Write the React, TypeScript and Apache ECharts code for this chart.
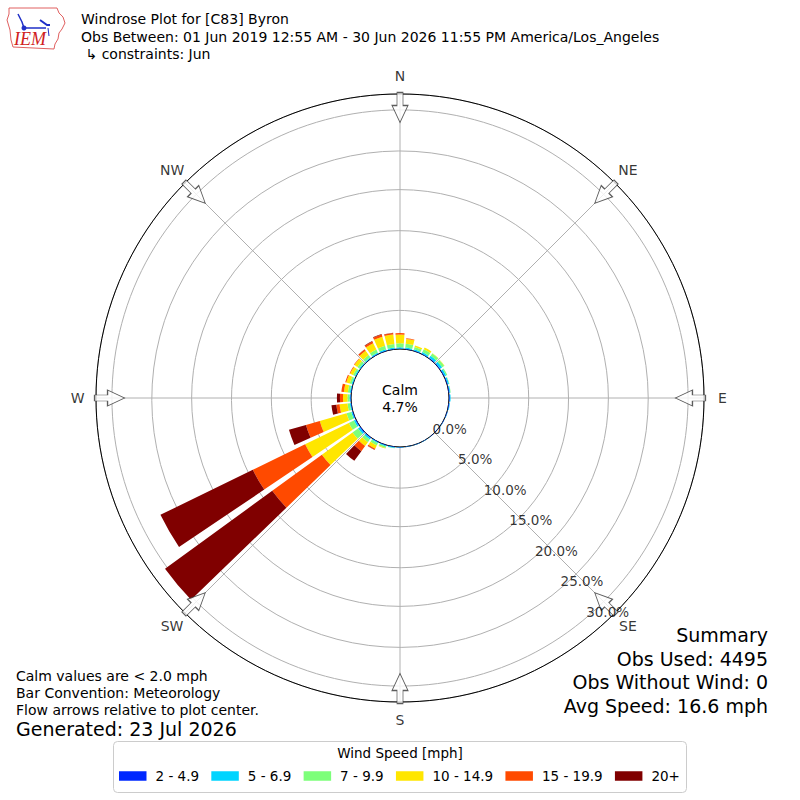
import React, { useEffect, useRef } from "react";
import * as echarts from "echarts";

// ---- data ----
const directions = [
  "0", "10", "20", "30", "40", "50", "60", "70", "80", "90", "100", "110",
  "120", "130", "140", "150", "160", "170", "180", "190", "200", "210", "220", "230",
  "240", "250", "260", "270", "280", "290", "300", "310", "320", "330", "340", "350",
];
const speedBins = ["2 - 4.9", "5 - 6.9", "7 - 9.9", "10 - 14.9", "15 - 19.9", "20+"];
const binColors = ["#0028ff", "#00d4ff", "#7dff7a", "#ffe600", "#ff4a00", "#800000"];

// percent of observations per 10-degree direction bin
const spd2to5 = [0.06, 0.06, 0.06, 0.06, 0.1, 0.1, 0.1, 0.1, 0.1, 0.1, 0.08, 0.06, 0.05, 0.03, 0.03, 0.03, 0.03, 0.03, 0.05, 0.06, 0.06, 0.06, 0.1, 0.12, 0.1, 0.08, 0.06, 0.08, 0.06, 0.05, 0.05, 0.05, 0.06, 0.06, 0.06, 0.06];
const spd5to7 = [0.15, 0.15, 0.15, 0.2, 0.3, 0.3, 0.2, 0.15, 0.1, 0.1, 0.07, 0.04, 0.03, 0.02, 0.02, 0.02, 0.02, 0.02, 0.05, 0.1, 0.12, 0.12, 0.2, 0.25, 0.2, 0.15, 0.12, 0.12, 0.12, 0.12, 0.12, 0.12, 0.12, 0.15, 0.15, 0.15];
const spd7to10 = [0.5, 0.5, 0.3, 0.4, 0.35, 0.3, 0.15, 0.05, 0.05, 0, 0, 0, 0, 0, 0, 0, 0, 0, 0, 0.04, 0.2, 0.3, 0.4, 0.85, 0.7, 0.6, 0.3, 0.25, 0.25, 0.25, 0.25, 0.3, 0.35, 0.4, 0.45, 0.45];
const spd10to15 = [1.1, 0.6, 0.19, 0.24, 0.05, 0.05, 0, 0, 0, 0, 0, 0, 0, 0, 0, 0, 0, 0, 0, 0, 0.07, 0.45, 0.6, 4.75, 6.1, 3.5, 1.0, 0.56, 0.5, 0.45, 0.4, 0.45, 0.65, 0.9, 1.2, 1.2];
const spd15to20 = [0.19, 0.09, 0, 0, 0, 0, 0, 0, 0, 0, 0, 0, 0, 0, 0, 0, 0, 0, 0, 0, 0, 0.15, 0.8, 7.7, 7.3, 1.8, 0.4, 0.38, 0.32, 0.13, 0.08, 0.08, 0.2, 0.22, 0.27, 0.2];
const spd20plus = [0, 0, 0, 0, 0, 0, 0, 0, 0, 0, 0, 0, 0, 0, 0, 0, 0, 0, 0, 0, 0, 0.02, 1.5, 16.63, 12.9, 2.22, 0.62, 0.38, 0, 0, 0, 0, 0.02, 0.07, 0.07, 0.04];

const radiusTicks = [0, 5, 10, 15, 20, 25, 30];
const compassLabels = ["N", "NE", "E", "SE", "S", "SW", "W", "NW"];
const compassAngles = [0, 45, 90, 135, 180, 225, 270, 315];

const titleLines = [
  "Windrose Plot for [C83] Byron",
  "Obs Between: 01 Jun 2019 12:55 AM - 30 Jun 2026 11:55 PM America/Los_Angeles",
  " \u21b3 constraints: Jun",
];
const summaryLines = ["Summary", "Obs Used: 4495", "Obs Without Wind: 0", "Avg Speed: 16.6 mph"];
const noteLines = ["Calm values are < 2.0 mph", "Bar Convention: Meteorology", "Flow arrows relative to plot center."];
const generatedText = "Generated: 23 Jul 2026";
const calmText = "Calm\n4.7%";
const legendTitle = "Wind Speed [mph]";

const FONT = "DejaVu Sans";
const ARROW_PATH = "path://M0,5 L13,5 L13,0 L30,8 L13,16 L13,11 L0,11 Z";

export default function App() {
  const ref = useRef<HTMLDivElement>(null);

  useEffect(() => {
    if (!ref.current) return;
    const chart = echarts.init(ref.current, undefined, { renderer: "svg" });
    const speedSeries = [spd2to5, spd5to7, spd7to10, spd10to15, spd15to20, spd20plus];
    const ARROW_R = 30.3;
    const LABEL_R = 34.3;
    const RLABEL_ANGLE = 140;

    const titleTexts = titleLines.map((t, i) => ({
      type: "text",
      x: 81,
      y: 19 + i * 17.5,
      style: { text: t, fontFamily: FONT, fontSize: 14, verticalAlign: "middle", fill: "#000" },
    }));
    const summaryTexts = summaryLines.map((t, i) => ({
      type: "text",
      x: 768,
      y: 635 + i * 23.6,
      style: { text: t, align: "right", verticalAlign: "middle", fontFamily: FONT, fontSize: 19, fill: "#000" },
    }));
    const noteTexts = noteLines.map((t, i) => ({
      type: "text",
      x: 16,
      y: 676 + i * 17,
      style: { text: t, verticalAlign: "middle", fontFamily: FONT, fontSize: 14, fill: "#000" },
    }));

    const option: any = {
      animation: false,
      backgroundColor: "#ffffff",
      textStyle: { fontFamily: FONT },
      polar: [
        { center: [400, 398], radius: [49, 304] },
        { center: [400, 398], radius: [49, 304] },
      ],
      angleAxis: [
        {
          polarIndex: 0,
          type: "value",
          min: 0,
          max: 360,
          interval: 45,
          startAngle: 90,
          clockwise: true,
          z: 3,
          axisLine: { show: true, lineStyle: { color: "#000", width: 1 } },
          axisTick: { show: false },
          axisLabel: { show: false },
          splitLine: { show: true, lineStyle: { color: "#b0b0b0", width: 1 } },
        },
        {
          polarIndex: 1,
          type: "category",
          data: directions,
          startAngle: 95,
          clockwise: true,
          boundaryGap: true,
          axisLine: { show: false },
          axisTick: { show: false },
          axisLabel: { show: false },
          splitLine: { show: false },
        },
      ],
      radiusAxis: [
        {
          polarIndex: 0,
          type: "value",
          min: 0,
          max: 32,
          interval: 5,
          z: 1,
          axisLine: { show: false },
          axisTick: { show: false },
          axisLabel: { show: false },
          splitLine: { show: true, lineStyle: { color: "#b0b0b0", width: 1 } },
        },
        {
          polarIndex: 1,
          type: "value",
          min: 0,
          max: 32,
          axisLine: { show: false },
          axisTick: { show: false },
          axisLabel: { show: false },
          splitLine: { show: false },
        },
      ],
      legend: {
        data: speedBins,
        left: 119,
        top: 769,
        padding: 0,
        orient: "horizontal",
        icon: "rect",
        itemWidth: 27.5,
        itemHeight: 9.5,
        itemGap: 12.3,
        selectedMode: false,
        textStyle: { fontFamily: FONT, fontSize: 13.5, color: "#000", padding: [0, 0, 0, 4] },
        z: 10,
      },
      series: [
        ...speedSeries.map((arr, i) => ({
          type: "bar",
          name: speedBins[i],
          coordinateSystem: "polar",
          polarIndex: 1,
          stack: "wind",
          data: arr,
          barCategoryGap: "20%",
          itemStyle: { color: binColors[i] },
          z: 5,
          silent: true,
        })),
        {
          type: "scatter",
          coordinateSystem: "polar",
          polarIndex: 0,
          clip: false,
          silent: true,
          z: 6,
          symbol: ARROW_PATH,
          symbolSize: [30, 16],
          itemStyle: { color: "#ffffff", borderColor: "#333333", borderWidth: 1 },
          data: compassAngles.map((a) => ({ value: [ARROW_R, a], symbolRotate: -90 - a })),
        },
        {
          type: "scatter",
          coordinateSystem: "polar",
          polarIndex: 0,
          clip: false,
          silent: true,
          z: 7,
          symbolSize: 0,
          data: compassAngles.map((a, i) => ({ value: [LABEL_R, a], name: compassLabels[i] })),
          label: {
            show: true,
            position: "inside",
            formatter: (p: any) => p.name,
            fontFamily: FONT,
            fontSize: 14,
            color: "#000",
          },
        },
        {
          type: "scatter",
          coordinateSystem: "polar",
          polarIndex: 0,
          clip: false,
          silent: true,
          z: 8,
          symbolSize: 0,
          data: radiusTicks.map((v) => [v, RLABEL_ANGLE]),
          label: {
            show: true,
            position: "right",
            distance: 0,
            offset: [1, -7],
            formatter: (p: any) => p.value[0].toFixed(1) + "%",
            fontFamily: FONT,
            fontSize: 13.5,
            color: "#000",
          },
        },
      ],
      graphic: [
        // IEM logo (decorative)
        {
          type: "polygon",
          z: 1,
          shape: {
            points: [
              [9, 8], [57, 8], [59, 13], [63, 17], [65, 23], [62, 29], [59, 33],
              [58, 39], [55, 44], [54, 49], [13, 47], [11, 40], [10, 30], [7, 20], [9, 14],
            ],
          },
          style: { fill: "#fff", stroke: "#e06060", lineWidth: 1 },
        },
        {
          type: "polyline",
          z: 2,
          shape: { points: [[18, 14], [22, 22], [24, 28], [46, 28]] },
          style: { stroke: "#2030c8", lineWidth: 1.5, fill: null },
        },
        {
          type: "polyline",
          z: 2,
          shape: { points: [[40, 20], [47, 25], [50, 25]] },
          style: { stroke: "#2030c8", lineWidth: 2, fill: null },
        },
        {
          type: "polyline",
          z: 2,
          shape: { points: [[48, 28], [49, 36]] },
          style: { stroke: "#2030c8", lineWidth: 1, fill: null },
        },
        { type: "circle", z: 2, shape: { cx: 24, cy: 28, r: 2.5 }, style: { fill: "#2030c8" } },
        {
          type: "text",
          z: 2,
          x: 14,
          y: 30,
          style: { text: "IEM", font: "italic 18px 'Liberation Serif'", fill: "#d02020" },
        },
        ...titleTexts,
        // calm
        {
          type: "text",
          x: 400,
          y: 398,
          z: 9,
          style: { text: calmText, align: "center", verticalAlign: "middle", fontFamily: FONT, fontSize: 14, lineHeight: 17, fill: "#000" },
        },
        ...summaryTexts,
        ...noteTexts,
        {
          type: "text",
          x: 16,
          y: 729,
          style: { text: generatedText, verticalAlign: "middle", fontFamily: FONT, fontSize: 19, fill: "#000" },
        },
        // legend frame
        {
          type: "rect",
          z: 0,
          shape: { x: 113.5, y: 741.5, width: 573, height: 51, r: 4 },
          style: { fill: "#fff", stroke: "#cccccc", lineWidth: 1 },
        },
        {
          type: "text",
          z: 1,
          x: 400,
          y: 753,
          style: { text: legendTitle, align: "center", verticalAlign: "middle", fontFamily: FONT, fontSize: 13.5, fill: "#000" },
        },
      ],
    };
    chart.setOption(option);
    return () => chart.dispose();
  }, []);

  return (
    <div
      ref={ref}
      style={{ position: "absolute", left: 0, top: 0, width: 800, height: 800, background: "#fff" }}
    />
  );
}
